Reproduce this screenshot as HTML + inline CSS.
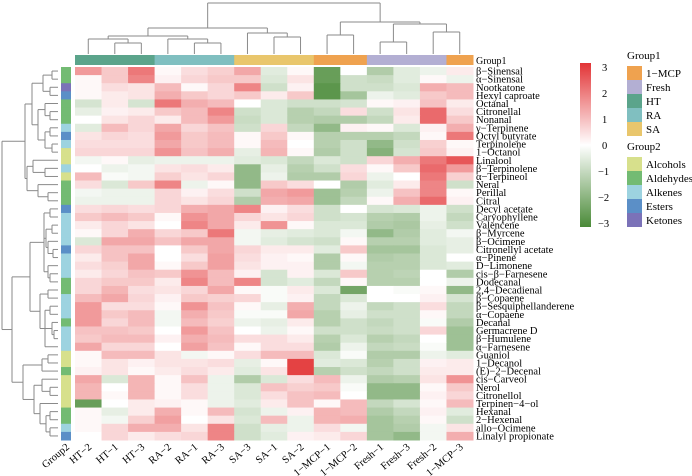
<!DOCTYPE html>
<html><head><meta charset="utf-8"><style>
body{margin:0;background:#fff}
svg{display:block;font-family:"Liberation Serif",serif}
</style></head><body>
<svg id="chart" width="692" height="476" viewBox="0 0 692 476"></svg>
<script>
const columns=["HT−2","HT−1","HT−3","RA−2","RA−1","RA−3","SA−3","SA−1","SA−2","1−MCP−1","1−MCP−2","Fresh−1","Fresh−3","Fresh−2","1−MCP−3"];
const colGroups=["HT","HT","HT","RA","RA","RA","SA","SA","SA","1−MCP","1−MCP","Fresh","Fresh","Fresh","1−MCP"];
const rows=["β−Sinensal","α−Sinensal","Nootkatone","Hexyl caproate","Octanal","Citronellal","Nonanal","γ−Terpinene","Octyl butyrate","Terpinolene","1−Octanol","Linalool","β−Terpinolene","α−Terpineol","Neral","Perillal","Citral","Decyl acetate","Caryophyllene","Valencene","β−Myrcene","β−Ocimene","Citronellyl acetate","α−Pinene","D−Limonene","cis−β−Farnesene","Dodecanal","2,4−Decadienal","β−Copaene","β−Sesquiphellanderene","α−Copaene","Decanal","Germacrene D","β−Humulene","α−Farnesene","Guaniol","1−Decanol","(E)−2−Decenal","cis−Carveol","Nerol","Citronellol","Terpinen−4−ol","Hexanal","2−Hexenal","allo−Ocimene","Linalyl propionate"];
const rowGroups=["Aldehydes","Aldehydes","Ketones","Esters","Aldehydes","Aldehydes","Aldehydes","Alkenes","Esters","Alkenes","Alcohols","Alcohols","Alkenes","Alcohols","Aldehydes","Aldehydes","Aldehydes","Esters","Alkenes","Alkenes","Alkenes","Alkenes","Esters","Alkenes","Alkenes","Alkenes","Aldehydes","Aldehydes","Alkenes","Alkenes","Alkenes","Aldehydes","Alkenes","Alkenes","Alkenes","Alcohols","Alcohols","Aldehydes","Alcohols","Alcohols","Alcohols","Alcohols","Aldehydes","Aldehydes","Alkenes","Esters"];
const values=[
[1.5,0.8,2,0.1,0.5,0.7,1.3,-0.5,0.1,-2.5,0,-1.3,-0.5,-0.3,0.3],
[0.1,0.8,1.8,0.2,0.6,0.8,0.8,-0.6,0.4,-2.5,-0.8,-0.9,-0.5,0.1,-0.3],
[0.1,0.5,0.4,1.0,0.1,0.6,1.8,-0.8,0.2,-2.7,-0.8,-0.8,-0.6,1.2,1.0],
[0.1,0.3,0.4,1.2,0.8,0.6,0.8,0.3,0.8,-2.7,-1.5,-0.3,-0.5,0.8,1.0],
[-0.7,0.3,-0.7,2.0,1.2,1.0,0,-0.6,-0.8,-0.8,-0.7,0.1,0.2,0.9,0.3],
[-0.4,0.2,0.3,0.8,1.0,1.8,-0.8,-0.6,-1.2,-1.0,0.5,-0.8,0.4,2.2,0.5],
[0,0.4,0.6,0.3,1.0,1.5,-0.9,-0.6,-1.2,-1.3,-1.3,-1.0,0.3,2.2,0.8],
[-0.5,1.0,0.6,1.3,0.6,0.9,-0.8,0.6,-1.0,-1.8,0.2,0.1,-0.6,0.2,1.2],
[0.4,0.6,0.5,1.5,0.8,1.0,0.1,0.8,0.1,-1.2,-1.2,-1.2,-1.0,0.1,2.0],
[0.5,0.5,0.5,1.3,0.8,1.0,0.1,1.0,0,-1.2,-0.8,-1.8,-0.8,0.7,0.1],
[0.6,0.6,0.6,1.6,0.9,1.2,-0.4,1.1,0.1,-1.3,-0.8,-2.0,-0.7,0.8,0.2],
[-0.2,0.1,-0.4,-0.3,-0.3,-0.3,-0.5,-0.6,-1.0,-0.6,-0.8,0.6,1.2,2.0,2.5],
[0,-0.3,-0.2,0.4,0.5,0.3,-1.8,-0.4,-1.2,-0.8,0.5,0.1,0.8,2.2,1.5],
[1.0,-0.1,-0.2,0.7,0.4,0.6,-1.8,-0.3,-1.3,-1.3,0.6,-0.3,0,2.0,0.7],
[0.5,-0.6,0.8,1.8,-0.3,0.1,-1.8,0.8,0.5,0,-1.3,-0.5,0.3,1.8,-0.8],
[-0.2,-0.3,-0.3,0.6,0.2,0.5,-0.8,1.3,1.5,-1.6,-1.2,-0.3,0.9,1.8,0.1],
[-0.3,-0.3,-0.3,0.6,0.4,0.6,-1.3,1.2,1.3,-1.6,-1.0,0.1,1.2,2.2,0.2],
[0.5,0.6,0.5,0.6,1.2,1.3,1.8,0.2,0.5,-0.8,0,-0.7,-0.6,-0.3,-0.8],
[0.8,1.0,0.8,0.1,1.6,1.3,0.6,0.4,0.6,-0.8,-0.7,-1.2,-1.3,-0.3,-1.0],
[0.3,0.6,0.4,0,1.8,1.3,0.3,1.6,0.1,-0.6,-0.6,-1.3,-1.4,-0.4,-0.8],
[0.1,0.6,1.2,0.6,0.8,2.0,-0.2,-0.4,-0.5,-0.6,-0.2,-1.8,-1.3,-0.5,-0.2],
[-0.6,1.3,1.3,0.9,1.3,1.3,-0.2,-0.5,-0.7,-0.8,0.1,-1.2,-1.2,-0.5,-0.4],
[0.6,0.9,0.9,0,0.8,1.3,0.6,0.3,0.3,-0.5,0.8,-1.5,-1.5,-0.6,-0.4],
[0.3,0.9,1.3,0,0.5,1.4,0.5,0.2,0.1,-1.3,0.1,-1.3,-1.2,-0.6,0],
[0.5,0.7,1.3,0.1,0.8,1.4,0.4,0.2,0.2,-1.3,-0.2,-1.2,-1.2,-0.6,-0.5],
[0.3,0.6,0.9,0.8,1.6,1.0,0.2,-0.7,0.2,-0.6,0.8,-1.2,-1.1,0,-1.3],
[0.6,0.8,0.8,0.3,1.8,1.0,1.8,-0.7,-0.5,-1.0,0.1,-1.2,-1.2,0,-0.3],
[0.6,1.1,0.5,0.4,0.6,1.3,0.1,-0.1,0.3,-0.6,-2.3,0,-0.1,0.1,-1.8],
[1.0,1.3,0.6,0.2,0.8,0.7,0.6,-0.1,0.2,-1.0,-0.6,0,0,0.2,-0.7],
[1.5,0.5,0.5,0.1,1.6,0.9,0.1,-0.4,1.2,-1.0,-0.3,-1.0,-0.8,0.5,-1.0],
[1.5,0.8,1.0,-0.2,1.2,0.8,-0.1,-0.1,1.3,-1.2,-0.4,-0.8,-0.8,0.1,-1.0],
[1.5,0.6,1.0,-0.2,1.0,0.7,-0.3,-0.4,0.3,-1.2,-0.8,-1.0,-0.8,-0.1,-1.3],
[0.9,0.9,0.8,0,1.5,0.9,0,-0.3,0.1,-0.8,-0.8,-0.9,-0.8,0.6,-1.6],
[0.8,1.0,1.0,0.2,1.2,1.0,0.5,0.5,0.3,-1.2,-0.6,-1.2,-1.0,0,-1.6],
[1.3,0.6,0.6,0,1.4,0.9,0.1,0.5,0.5,-1.3,-0.3,-1.0,-0.9,-0.1,-1.6],
[0.1,1.0,1.0,0.4,-0.2,0.1,0.5,1.0,1.0,-0.6,-0.1,-1.3,-1.3,-0.3,-0.5],
[0.1,0.4,0.2,0.4,0.4,0.5,-0.4,0.1,2.8,-0.5,-0.6,-1.2,-0.8,0.2,0.3],
[0.2,0.4,0.1,0.3,0.5,0.3,-0.5,0.4,2.8,-1.2,-0.8,-1.0,-0.8,0.3,0.3],
[1.3,-0.6,1.1,0.1,0.9,-0.3,-1.3,-0.6,0.5,1.0,-0.3,-1.3,-1.2,0.4,1.6],
[1.1,0,1.1,0.1,0.5,-0.3,-0.6,0.9,0.7,0.8,-0.1,-1.8,-1.8,0.1,0.8],
[1.1,0.1,1.1,0.1,0.5,-0.3,-0.6,0.5,0.9,1.0,0,-1.8,-1.8,0.2,0.6],
[-2.5,0,0.3,0.2,0.1,-0.3,-0.5,0.3,0.9,0.1,1.0,-1.0,-0.7,0.1,1.0],
[0.1,-0.4,0.3,1.2,0.1,1.0,-0.7,-0.3,0.2,1.1,1.0,-1.3,-1.0,0.2,-0.5],
[0.1,-0.2,0.7,1.4,0,0.4,-0.6,1.0,-0.3,1.1,1.2,-1.5,-1.2,0.1,-0.8],
[0.1,0.6,1.2,1.2,0.4,1.8,-0.8,-0.4,-0.3,0.5,-0.2,-1.5,-1.3,-0.2,0.4],
[0,0.6,0.3,0.5,0.6,1.8,-0.8,-0.5,0.2,0.3,0.6,-1.5,-1.8,-0.2,1.2]];
const scaleTicks=[3,2,1,0,-1,-2,-3];
const group1Names=["1−MCP","Fresh","HT","RA","SA"];
const group2Names=["Alcohols","Aldehydes","Alkenes","Esters","Ketones"];

const g1Col={"1−MCP":"#efa24f","Fresh":"#b3afd3","HT":"#5ba48b","RA":"#80bfc0","SA":"#e9c66c"};
const g2Col={"Alcohols":"#d7e08c","Aldehydes":"#73bb73","Alkenes":"#9dd3e0","Esters":"#5b8fc7","Ketones":"#7b72b8"};
const NS="http://www.w3.org/2000/svg";
const svg=document.getElementById('chart');
function mk(tag,attrs,parent){const e=document.createElementNS(NS,tag);for(const k in attrs)e.setAttribute(k,attrs[k]);(parent||svg).appendChild(e);return e;}
const X0=75,X1=473,Y0=67,Y1=440;
const cw=(X1-X0)/columns.length, rh=(Y1-Y0)/rows.length;
const xOf=i=>X0+i*cw, yOf=r=>Y0+r*rh;
function mix(a,b,t){return a.map((v,i)=>Math.round(v+(b[i]-v)*t));}
function colorOf(v){const t=Math.max(-1,Math.min(1,v/3));
  const c=t>=0?mix([255,255,255],[226,52,54],t):mix([255,255,255],[74,138,56],-t);return `rgb(${c})`;}

// cells
const cellG=mk('g',{});


values.forEach((row,r)=>row.forEach((v,c)=>{
  const rc=mk('rect',{x:xOf(c),y:yOf(r),width:cw+0.5,height:rh+0.5,fill:colorOf(v)},cellG);
  
  
}));
// group1 bar
columns.forEach((c,i)=>{
  const rc=mk('rect',{x:xOf(i),y:55,width:cw+0.5,height:10,fill:g1Col[colGroups[i]]});
  
  
  const t=mk('text',{x:0,y:0,'font-size':10.5,'text-anchor':'end',transform:`translate(${xOf(i)+cw/2+4},${Y1+8}) rotate(-40)`});
  t.textContent=c;
  
  
});
const g1t=mk('text',{x:476,y:64,'font-size':10});g1t.textContent="Group1";


const g2t=mk('text',{x:0,y:0,'font-size':10.5,'text-anchor':'end',transform:`translate(${70},${Y1+8}) rotate(-40)`});g2t.textContent="Group2";


// group2 strip + row labels
rows.forEach((n,r)=>{
  const rc=mk('rect',{x:61,y:yOf(r),width:10,height:rh+0.5,fill:g2Col[rowGroups[r]]});
  
  
  const t=mk('text',{x:476,y:yOf(r)+rh/2+3.5,'font-size':10.5});t.textContent=n;
  
  
});
// dendrograms
function n(h,c){return {h:h,c:c};}
function drawTree(node,pos,leafH,horiz,g){
  if(typeof node==='number') return {p:pos(node),h:leafH};
  const ch=node.c.map(k=>drawTree(k,pos,leafH,horiz,g));
  const ps=ch.map(k=>k.p);
  ch.forEach(k=>{ if(horiz) mk('line',{x1:node.h,y1:k.p,x2:k.h,y2:k.p},g); else mk('line',{x1:k.p,y1:node.h,x2:k.p,y2:k.h},g);});
  const a=Math.min(...ps),b=Math.max(...ps);
  if(horiz) mk('line',{x1:node.h,y1:a,x2:node.h,y2:b},g); else mk('line',{x1:a,y1:node.h,x2:b,y2:node.h},g);
  return {p:(a+b)/2,h:node.h};
}
const colTree=n(3,[n(28,[n(36,[n(39,[0,n(43,[1,2])]),n(39,[3,n(43,[4,5])])]),n(33,[6,n(37,[7,8])])]),n(22,[n(35,[9,10]),n(24,[n(42,[11,12]),n(32,[13,14])])])]);
const A=n(25,[n(32,[n(43,[n(52,[0,1]),n(50,[2,3])]),n(38,[n(45,[4,n(50,[5,6])]),n(45,[n(50,[7,8]),n(52,[9,10])])])]),n(27,[n(33,[11,n(45,[12,13])]),n(38,[14,n(48,[15,16])])])]);
const B1=n(30,[n(44,[n(50,[17,18]),n(46,[n(52,[19,20]),n(48,[21,n(53,[22,23])])]),n(48,[24,n(50,[25,26])])]),n(40,[n(48,[27,28]),n(45,[n(50,[29,30]),n(52,[31,n(54,[32,33])]),34])])]);
const B2=n(23,[n(42,[n(48,[35,36]),37]),n(34,[n(42,[38,n(50,[39,40])]),n(40,[41,n(46,[n(50,[42,43]),n(50,[44,45])])])])]);
const rowTree=n(2,[A,n(12,[B1,B2])]);
const cg=mk('g',{stroke:'#8a8a8a','stroke-width':1,fill:'none'});


drawTree(colTree,i=>xOf(i)+cw/2,54,false,cg);
const rg=mk('g',{stroke:'#8a8a8a','stroke-width':1,fill:'none'});


drawTree(rowTree,r=>yOf(r)+rh/2,58,true,rg);
// colorbar
const defs=mk('defs',{});
const lg=mk('linearGradient',{id:'cb',x1:0,y1:0,x2:0,y2:1},defs);
for(let k=0;k<=12;k++){mk('stop',{offset:k/12,'stop-color':colorOf(3-k*0.5)},lg);}
const CB0=67,CB1=223;
const cb=mk('rect',{x:580,y:CB0-4,width:11,height:CB1-CB0+8,fill:'url(#cb)'});


scaleTicks.forEach(v=>{
  const t=mk('text',{x:v<0?598:602,y:CB0+(3-v)/6*(CB1-CB0)+4,'font-size':10.5});t.textContent=v<0?"−"+(-v):String(v);
  
  
});
// legends
function legend(title,names,cols,y0,nm){
  const t=mk('text',{x:627,y:y0,'font-size':11});t.textContent=title;
  
  
  names.forEach((s,i)=>{
    const cy=y0+14+i*14;
    const r=mk('rect',{x:627,y:cy-7,width:15,height:14,fill:cols[s]});
    
    
    const tt=mk('text',{x:646,y:cy+4,'font-size':11});tt.textContent=s;
    
    
  });
}
legend("Group1",group1Names,g1Col,59,'group1');
legend("Group2",group2Names,g2Col,150,'group2');
</script>
</body></html>
